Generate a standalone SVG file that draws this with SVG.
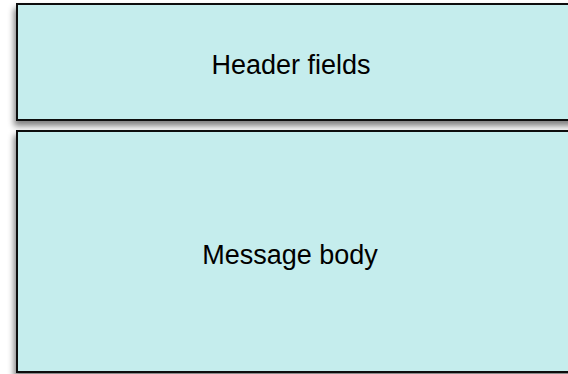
<svg xmlns="http://www.w3.org/2000/svg" width="568" height="374" viewBox="0 0 568 374">
  <style>
    .box { fill: #c5eded; stroke: #111; stroke-width: 2; filter: url(#shadow); }
    .label { font-family: "Liberation Sans", Arial, sans-serif; font-size: 27px; fill: #000; text-anchor: middle; }
  </style>
  <defs>
    <filter id="shadow" x="-10%" y="-10%" width="120%" height="130%">
      <feGaussianBlur in="SourceAlpha" stdDeviation="3"/>
      <feOffset dx="-2" dy="5" result="blur"/>
      <feComponentTransfer><feFuncA type="linear" slope="0.5"/></feComponentTransfer>
      <feMerge><feMergeNode/><feMergeNode in="SourceGraphic"/></feMerge>
    </filter>
  </defs>
  <rect width="568" height="374" fill="#fff"/>
  <g id="header">
    <rect class="box" x="17" y="4" width="560" height="116"/>
    <text class="label" x="291" y="74">Header fields</text>
  </g>
  <g id="body">
    <rect class="box" x="17" y="131" width="560" height="241"/>
    <text class="label" x="290" y="264">Message body</text>
  </g>
  <g id="connectors"/>
</svg>
